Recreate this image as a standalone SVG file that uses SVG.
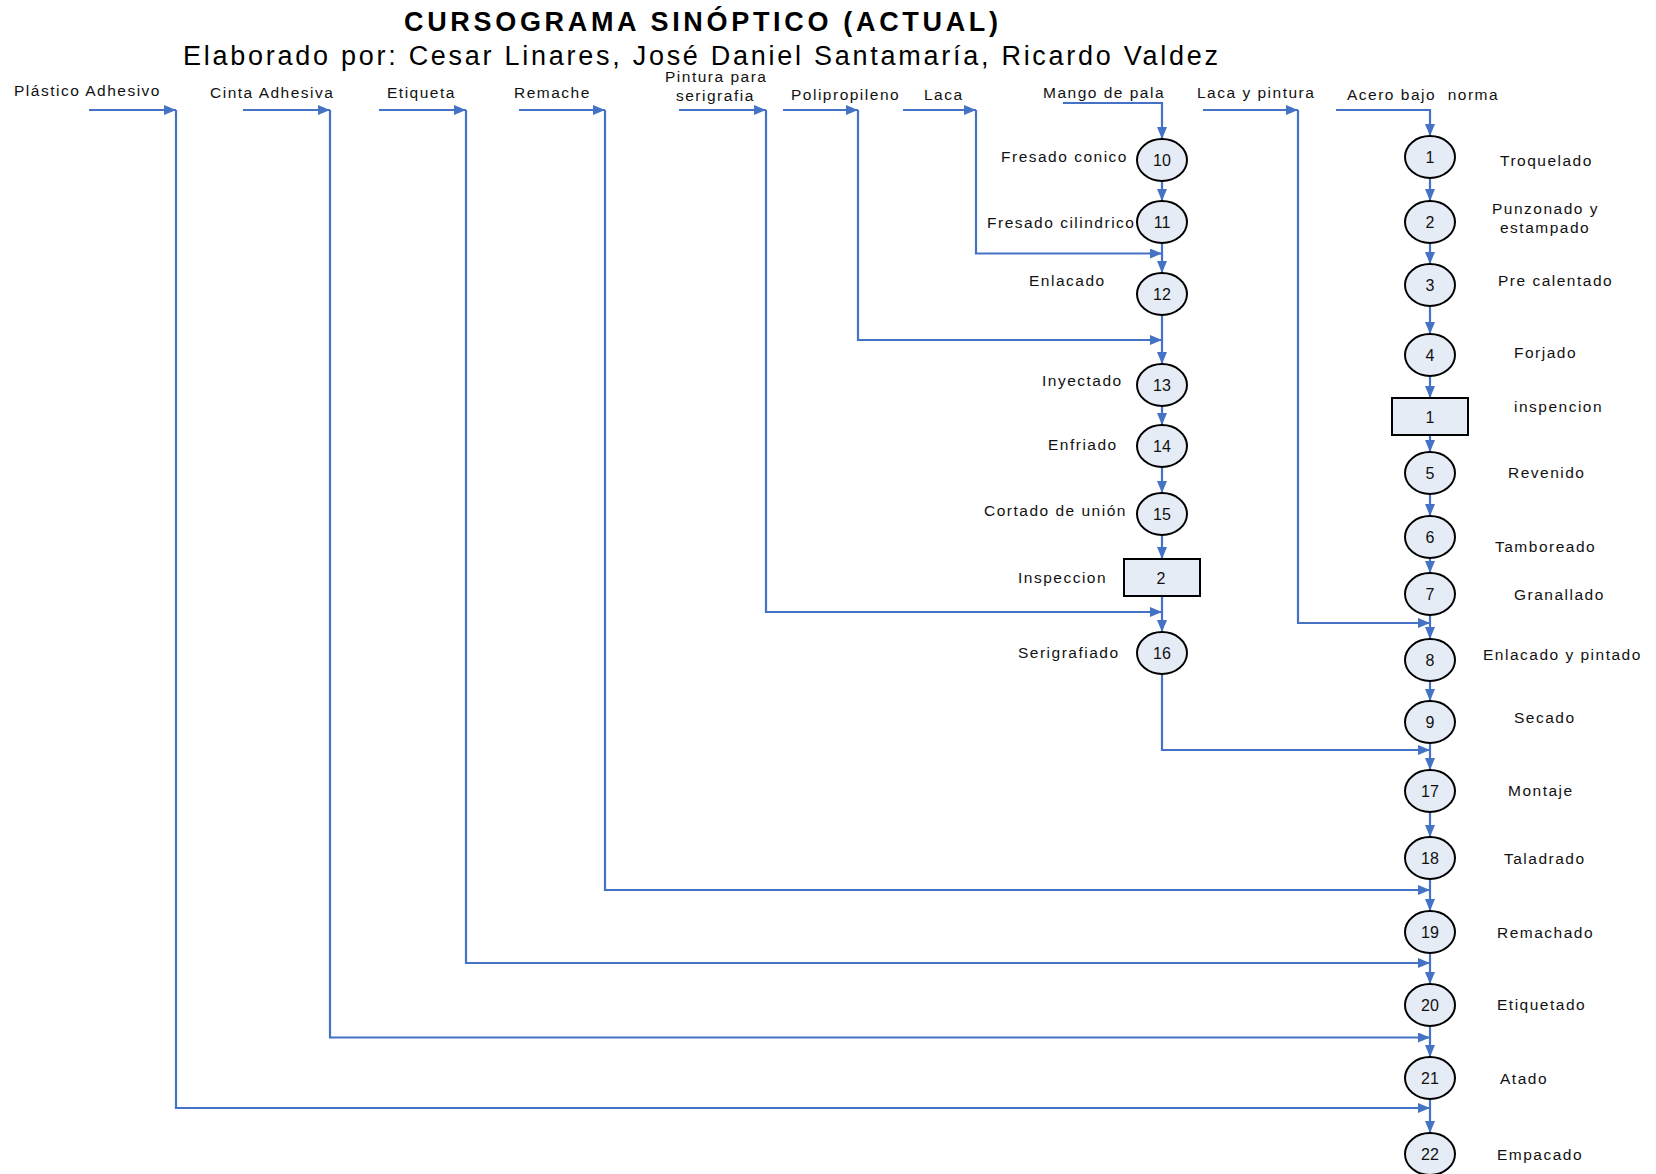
<svg xmlns="http://www.w3.org/2000/svg" width="1656" height="1174" viewBox="0 0 1656 1174">
<defs>
<style>
.t{font-family:"Liberation Sans",Arial,sans-serif;font-size:15.5px;letter-spacing:1.5px;fill:#111;}
.n{font-family:"Liberation Sans",Arial,sans-serif;font-size:16px;fill:#111;text-anchor:middle;}
.op{fill:#E6ECF6;stroke:#000;stroke-width:2;}
.c{fill:none;stroke:#4472C4;stroke-width:2.2;}
.a{marker-end:url(#ah);}
</style>
<marker id="ah" markerUnits="userSpaceOnUse" markerWidth="12" markerHeight="10" refX="12" refY="5" orient="auto">
<path d="M0,0 L12,5 L0,10 z" fill="#4472C4"/>
</marker>
</defs>
<rect width="1656" height="1174" fill="#fff"/>
<text x="404" y="31" font-family="Liberation Sans, Arial, sans-serif" font-size="27" font-weight="bold" textLength="594" lengthAdjust="spacing" fill="#000">CURSOGRAMA SINÓPTICO (ACTUAL)</text>
<text x="183" y="65" font-family="Liberation Sans, Arial, sans-serif" font-size="27" textLength="1035" lengthAdjust="spacing" fill="#000">Elaborado por: Cesar Linares, José Daniel Santamaría, Ricardo Valdez</text>
<g id="inputs">
<text class="t" x="14" y="96">Plástico Adhesivo</text>
<text class="t" x="210" y="98">Cinta Adhesiva</text>
<text class="t" x="387" y="98">Etiqueta</text>
<text class="t" x="514" y="98">Remache</text>
<text class="t" x="665" y="82">Pintura para</text>
<text class="t" x="676" y="101">serigrafia</text>
<text class="t" x="791" y="100">Polipropileno</text>
<text class="t" x="924" y="100">Laca</text>
<text class="t" x="1043" y="98">Mango de pala</text>
<text class="t" x="1197" y="98">Laca y pintura</text>
<text class="t" x="1347" y="100" xml:space="preserve">Acero bajo  norma</text>
</g>
<g id="connectors">
<path class="c a" d="M89,110 H176"/>
<path class="c a" d="M176,110 V1108 H1430"/>
<path class="c a" d="M243,110 H330"/>
<path class="c a" d="M330,110 V1037.5 H1430"/>
<path class="c a" d="M379,110 H466"/>
<path class="c a" d="M466,110 V963 H1430"/>
<path class="c a" d="M519,110 H605"/>
<path class="c a" d="M605,110 V890 H1430"/>
<path class="c a" d="M679,110 H766"/>
<path class="c a" d="M766,110 V612 H1162"/>
<path class="c a" d="M783,110 H858"/>
<path class="c a" d="M858,110 V340 H1162"/>
<path class="c a" d="M903,110 H976"/>
<path class="c a" d="M976,110 V253.5 H1162"/>
<path class="c a" d="M1063,103 H1162 V139"/>
<path class="c a" d="M1203,110 H1298"/>
<path class="c a" d="M1298,110 V623 H1430"/>
<path class="c a" d="M1336,110 H1430 V136"/>
<path class="c a" d="M1162,181 V201"/>
<path class="c a" d="M1162,243 V273"/>
<path class="c a" d="M1162,315 V364"/>
<path class="c a" d="M1162,406 V425"/>
<path class="c a" d="M1162,467 V493"/>
<path class="c a" d="M1162,535 V559"/>
<path class="c a" d="M1162,596 V632"/>
<path class="c a" d="M1162,674 V750 H1430"/>
<path class="c a" d="M1430,178 V201"/>
<path class="c a" d="M1430,243 V264"/>
<path class="c a" d="M1430,306 V334"/>
<path class="c a" d="M1430,376 V398"/>
<path class="c a" d="M1430,435 V452"/>
<path class="c a" d="M1430,494 V516"/>
<path class="c a" d="M1430,558 V573"/>
<path class="c a" d="M1430,615 V639"/>
<path class="c a" d="M1430,681 V701"/>
<path class="c a" d="M1430,743 V770"/>
<path class="c a" d="M1430,812 V837"/>
<path class="c a" d="M1430,879 V911"/>
<path class="c a" d="M1430,953 V984"/>
<path class="c a" d="M1430,1026 V1057"/>
<path class="c a" d="M1430,1099 V1133"/>
</g>
<g id="n10"><ellipse class="op" cx="1162" cy="160" rx="25" ry="21"/><text class="n" x="1162" y="166">10</text><text class="t" x="1001" y="162">Fresado conico</text></g>
<g id="n11"><ellipse class="op" cx="1162" cy="222" rx="25" ry="21"/><text class="n" x="1162" y="228">11</text><text class="t" x="987" y="228">Fresado cilindrico</text></g>
<g id="n12"><ellipse class="op" cx="1162" cy="294" rx="25" ry="21"/><text class="n" x="1162" y="300">12</text><text class="t" x="1029" y="286">Enlacado</text></g>
<g id="n13"><ellipse class="op" cx="1162" cy="385" rx="25" ry="21"/><text class="n" x="1162" y="391">13</text><text class="t" x="1042" y="386">Inyectado</text></g>
<g id="n14"><ellipse class="op" cx="1162" cy="446" rx="25" ry="21"/><text class="n" x="1162" y="452">14</text><text class="t" x="1048" y="450">Enfriado</text></g>
<g id="n15"><ellipse class="op" cx="1162" cy="514" rx="25" ry="21"/><text class="n" x="1162" y="520">15</text><text class="t" x="984" y="516">Cortado de unión</text></g>
<g id="i2"><rect class="op" x="1124" y="559" width="76" height="37"/><text class="n" x="1161" y="584">2</text><text class="t" x="1018" y="583">Inspeccion</text></g>
<g id="n16"><ellipse class="op" cx="1162" cy="653" rx="25" ry="21"/><text class="n" x="1162" y="659">16</text><text class="t" x="1018" y="658">Serigrafiado</text></g>
<g id="n1"><ellipse class="op" cx="1430" cy="157" rx="25" ry="21"/><text class="n" x="1430" y="163">1</text><text class="t" x="1500" y="166">Troquelado</text></g>
<g id="n2"><ellipse class="op" cx="1430" cy="222" rx="25" ry="21"/><text class="n" x="1430" y="228">2</text><text class="t" x="1492" y="214">Punzonado y</text><text class="t" x="1500" y="233">estampado</text></g>
<g id="n3"><ellipse class="op" cx="1430" cy="285" rx="25" ry="21"/><text class="n" x="1430" y="291">3</text><text class="t" x="1498" y="286">Pre calentado</text></g>
<g id="n4"><ellipse class="op" cx="1430" cy="355" rx="25" ry="21"/><text class="n" x="1430" y="361">4</text><text class="t" x="1514" y="358">Forjado</text></g>
<g id="i1"><rect class="op" x="1392" y="398" width="76" height="37"/><text class="n" x="1430" y="423">1</text><text class="t" x="1514" y="412">inspencion</text></g>
<g id="n5"><ellipse class="op" cx="1430" cy="473" rx="25" ry="21"/><text class="n" x="1430" y="479">5</text><text class="t" x="1508" y="478">Revenido</text></g>
<g id="n6"><ellipse class="op" cx="1430" cy="537" rx="25" ry="21"/><text class="n" x="1430" y="543">6</text><text class="t" x="1495" y="552">Tamboreado</text></g>
<g id="n7"><ellipse class="op" cx="1430" cy="594" rx="25" ry="21"/><text class="n" x="1430" y="600">7</text><text class="t" x="1514" y="600">Granallado</text></g>
<g id="n8"><ellipse class="op" cx="1430" cy="660" rx="25" ry="21"/><text class="n" x="1430" y="666">8</text><text class="t" x="1483" y="660">Enlacado y pintado</text></g>
<g id="n9"><ellipse class="op" cx="1430" cy="722" rx="25" ry="21"/><text class="n" x="1430" y="728">9</text><text class="t" x="1514" y="723">Secado</text></g>
<g id="n17"><ellipse class="op" cx="1430" cy="791" rx="25" ry="21"/><text class="n" x="1430" y="797">17</text><text class="t" x="1508" y="796">Montaje</text></g>
<g id="n18"><ellipse class="op" cx="1430" cy="858" rx="25" ry="21"/><text class="n" x="1430" y="864">18</text><text class="t" x="1504" y="864">Taladrado</text></g>
<g id="n19"><ellipse class="op" cx="1430" cy="932" rx="25" ry="21"/><text class="n" x="1430" y="938">19</text><text class="t" x="1497" y="938">Remachado</text></g>
<g id="n20"><ellipse class="op" cx="1430" cy="1005" rx="25" ry="21"/><text class="n" x="1430" y="1011">20</text><text class="t" x="1497" y="1010">Etiquetado</text></g>
<g id="n21"><ellipse class="op" cx="1430" cy="1078" rx="25" ry="21"/><text class="n" x="1430" y="1084">21</text><text class="t" x="1500" y="1084">Atado</text></g>
<g id="n22"><ellipse class="op" cx="1430" cy="1154" rx="25" ry="21"/><text class="n" x="1430" y="1160">22</text><text class="t" x="1497" y="1160">Empacado</text></g>
</svg>
